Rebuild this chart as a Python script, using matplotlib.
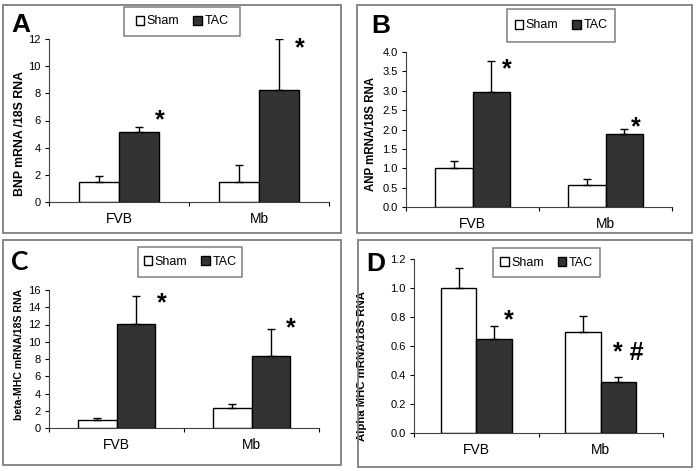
#!/usr/bin/env python3

import matplotlib
matplotlib.use("Agg")
import matplotlib.pyplot as plt
from matplotlib.patches import Rectangle

plt.rcParams['font.family'] = ['Liberation Sans', 'DejaVu Sans']

W, H = 697, 471

groups = ["FVB", "Mb"]

# A - BNP
bnp_sham = [1.45, 1.5]
bnp_sham_err = [0.43, 1.2]
bnp_tac = [5.12, 8.27]
bnp_tac_err = [0.43, 3.7]

# B - ANP
anp_sham = [1.0, 0.57]
anp_sham_err = [0.2, 0.15]
anp_tac = [2.98, 1.89]
anp_tac_err = [0.78, 0.13]

# C - beta-MHC
bmhc_sham = [0.97, 2.35]
bmhc_sham_err = [0.23, 0.45]
bmhc_tac = [12.05, 8.3]
bmhc_tac_err = [3.25, 3.2]

# D - alpha MHC
amhc_sham = [1.0, 0.70]
amhc_sham_err = [0.14, 0.105]
amhc_tac = [0.648, 0.35]
amhc_tac_err = [0.087, 0.035]

DARK = "#333333"
BOX = "#7f7f7f"


def px_rect(x0, y0, x1, y1):
    """pixel box (top-left origin) -> figure fraction [l, b, w, h]"""
    return [x0 / W, 1 - y1 / H, (x1 - x0) / W, (y1 - y0) / H]


def draw_panel(fig, letter, axbox, panelbox, legbox, letter_xy,
               sham, sham_err, tac, tac_err, ylim, yticks, yfmt,
               ylabel, label_xy, label_size, stars,
               letter_font='Liberation Sans'):
    # panel frame
    l, b, w, h = px_rect(*panelbox)
    fig.add_artist(Rectangle((l, b), w, h, transform=fig.transFigure,
                             fill=False, ec=BOX, lw=1.3))

    ax = fig.add_axes(px_rect(*axbox))
    bw = 0.285
    x = range(len(groups))
    xs = [i - bw / 2 for i in x]
    xt = [i + bw / 2 for i in x]
    ekw = dict(elinewidth=1.0, capthick=1.0, ecolor="black")
    b1 = ax.bar(xs, sham, bw, color="white", edgecolor="black", lw=1.0,
                yerr=[[0] * len(sham), sham_err], capsize=3,
                error_kw=ekw, label="Sham", zorder=2)
    b2 = ax.bar(xt, tac, bw, color=DARK, edgecolor="black", lw=1.0,
                yerr=[[0] * len(tac), tac_err], capsize=3,
                error_kw=ekw, label="TAC", zorder=2)

    ax.set_xlim(-0.5, 1.5)
    ax.set_ylim(*ylim)
    ax.set_yticks(yticks)
    ax.set_yticklabels([yfmt.format(v) for v in yticks], fontsize=8)
    ax.set_xticks(list(x))
    ax.set_xticklabels(groups, fontsize=10)
    ax.set_xticks([-0.5, 0.5, 1.5], minor=True)
    ax.tick_params(axis='x', which='major', length=0, pad=7)
    ax.tick_params(axis='x', which='minor', length=3, width=0.8, direction='out')
    ax.tick_params(axis='y', length=3, width=0.8, direction='out', pad=3)
    for s in ("top", "right"):
        ax.spines[s].set_visible(False)
    for s in ("left", "bottom"):
        ax.spines[s].set_linewidth(0.8)
        ax.spines[s].set_color("#404040")

    ax.set_ylabel(ylabel, fontsize=label_size, fontweight='bold')
    ax.yaxis.set_label_coords(*label_xy)

    for sx, sy, txt in stars:
        ax.text(sx, sy, txt, fontsize=18, fontweight='bold',
                ha='center', va='center')

    # legend box
    l, b, w, h = px_rect(*legbox)
    fig.add_artist(Rectangle((l, b), w, h, transform=fig.transFigure,
                             fill=False, ec=BOX, lw=1.1))
    fig.legend(handles=[b1, b2], labels=["Sham", "TAC"], loc='center',
               bbox_to_anchor=(l + w / 2, b + h / 2), ncol=2, frameon=False,
               fontsize=9, handlelength=0.7, handleheight=0.7,
               handletextpad=0.2, columnspacing=1.1, borderpad=0)

    # panel letter
    fig.text(letter_xy[0] / W, 1 - letter_xy[1] / H, letter, fontsize=19,
             fontweight='bold', ha='left', va='center', family=letter_font)
    return ax


def main():
    fig = plt.figure(figsize=(W / 100, H / 100), dpi=100)

    draw_panel(fig, "A", (49, 39, 329, 202), (3, 5, 341, 233),
               (124, 7, 240, 36), (11, 25),
               bnp_sham, bnp_sham_err, bnp_tac, bnp_tac_err,
               (0, 12), [0, 2, 4, 6, 8, 10, 12], "{:.0f}",
               "BNP mRNA /18S RNA", (-0.082, 0.42), 8.8,
               [(0.29, 6.0, "*"), (1.29, 11.3, "*")])

    draw_panel(fig, "B", (406, 52, 672, 207), (357, 5, 692, 233),
               (507, 9, 615, 42), (371, 26),
               anp_sham, anp_sham_err, anp_tac, anp_tac_err,
               (0, 4), [0, 0.5, 1, 1.5, 2, 2.5, 3, 3.5, 4], "{:.1f}",
               "ANP mRNA/18S RNA", (-0.11, 0.47), 8.3,
               [(0.26, 3.55, "*"), (1.23, 2.05, "*")])

    draw_panel(fig, "C", (49, 290, 319, 428), (3, 240, 341, 465),
               (138, 247, 242, 277), (11, 262),
               bmhc_sham, bmhc_sham_err, bmhc_tac, bmhc_tac_err,
               (0, 16), [0, 2, 4, 6, 8, 10, 12, 14, 16], "{:.0f}",
               "beta-MHC mRNA/18S RNA", (-0.093, 0.536), 7.6,
               [(0.337, 14.5, "*"), (1.29, 11.6, "*")], letter_font='Lato')

    draw_panel(fig, "D", (414, 259, 663, 433), (358, 240, 692, 467),
               (493, 248, 600, 277), (366, 264),
               amhc_sham, amhc_sham_err, amhc_tac, amhc_tac_err,
               (0, 1.2), [0, 0.2, 0.4, 0.6, 0.8, 1.0, 1.2], "{:.1f}",
               "Alpha MHC mRNA/18S RNA", (-0.19, 0.385), 8.2,
               [(0.263, 0.78, "*"), (1.22, 0.55, "* #")])

    fig.savefig("out.png", dpi=100)


if __name__ == "__main__":
    main()
